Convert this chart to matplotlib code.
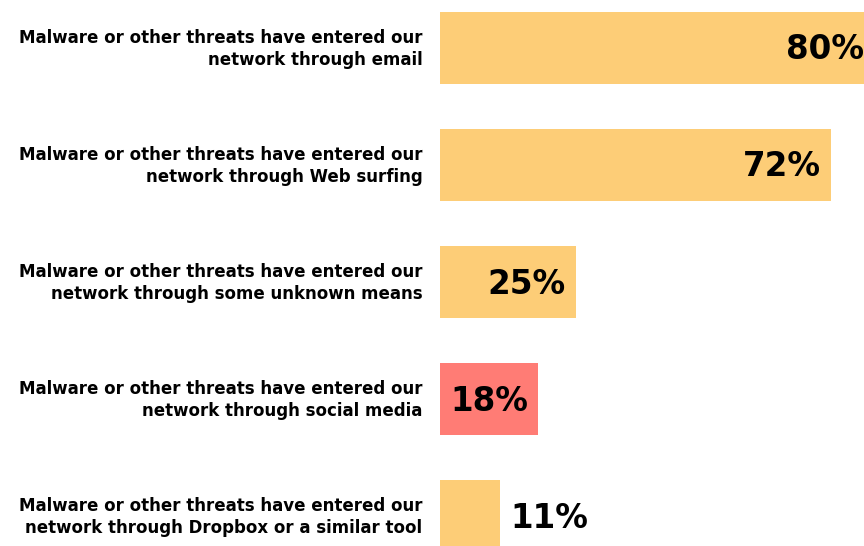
import matplotlib
matplotlib.use("Agg")
import matplotlib.pyplot as plt

categories = [
    "Malware or other threats have entered our\nnetwork through email",
    "Malware or other threats have entered our\nnetwork through Web surfing",
    "Malware or other threats have entered our\nnetwork through some unknown means",
    "Malware or other threats have entered our\nnetwork through social media",
    "Malware or other threats have entered our\nnetwork through Dropbox or a similar tool",
]
values = [80, 72, 25, 18, 11]
highlight = [False, False, False, True, False]

yellow = "#FDCD77"
red = "#FF7C75"

plt.rcParams["font.family"] = ["DejaVu Sans"]

fig = plt.figure(figsize=(8.64, 5.46), dpi=100)
ax = fig.add_axes([440.5 / 864, 0, 1 - 440.5 / 864, 1])

pos = list(range(len(values)))
colors = [red if h else yellow for h in highlight]
ax.barh(pos, values, height=0.62, color=colors)

ax.set_xlim(0, 423.5 / 5.42)
ax.set_ylim(4.256, -0.41)
ax.axis("off")

for p, v, lab in zip(pos, values, categories):
    ax.annotate(lab, xy=(0, p), xycoords=("axes fraction", "data"),
                xytext=(-18, -1), textcoords="offset pixels",
                ha="right", va="center", fontsize=12, fontweight="bold",
                linespacing=1.35, annotation_clip=False)
    if v >= 15:
        ax.annotate(f"{v}%", xy=(v, p), xytext=(-10, -2), textcoords="offset pixels",
                    ha="right", va="center", fontsize=23.5, fontweight="bold",
                    annotation_clip=False)
    else:
        ax.annotate(f"{v}%", xy=(v, p), xytext=(10, -2), textcoords="offset pixels",
                    ha="left", va="center", fontsize=23.5, fontweight="bold",
                    annotation_clip=False)

fig.savefig("out.png", dpi=100)
